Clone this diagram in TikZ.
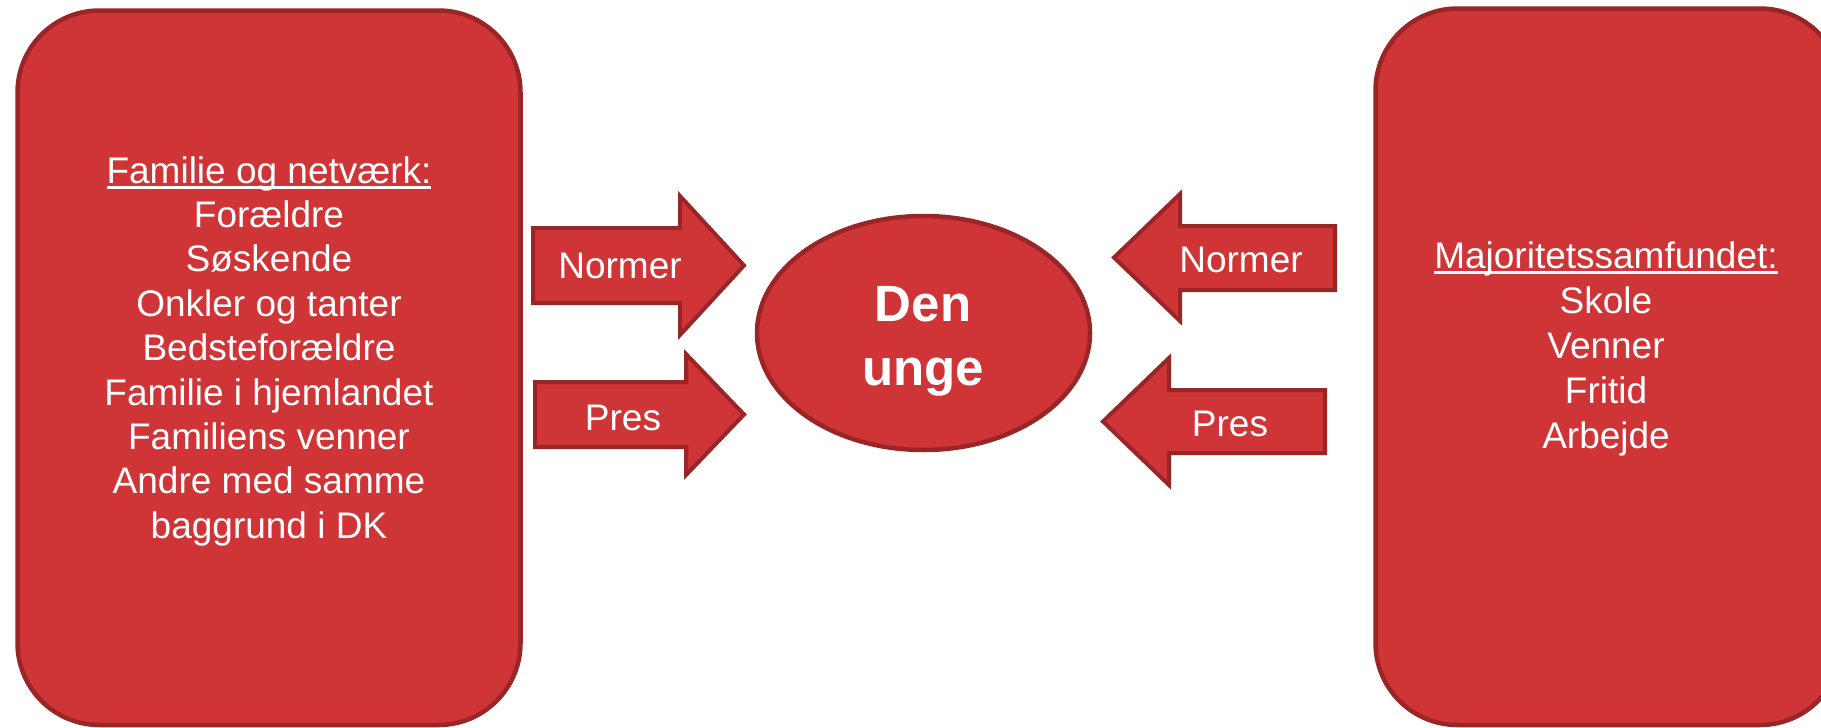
\documentclass[tikz,border=0pt]{standalone}
\usepackage{fontspec}
\setmainfont{Liberation Sans}
\usetikzlibrary{shapes.geometric}
\definecolor{boxfill}{RGB}{207,53,55}
\definecolor{boxline}{RGB}{154,37,39}
\newcommand\myul[1]{\setbox0\hbox{#1}\rlap{\rule[-5.5pt]{\wd0}{2.6pt}}\box0}
\begin{document}
\begin{tikzpicture}[x=1pt,y=-1pt,
  redshape/.style={fill=boxfill, draw=boxline, line width=4.5pt, line join=miter},
  arrowshape/.style={fill=boxfill, draw=boxline, line width=4pt, line join=miter},
  txt/.style={text=white, font=\fontsize{37}{44}\selectfont, inner sep=0pt},
  bigtxt/.style={text=white, font=\fontsize{51}{64}\selectfont\bfseries, inner sep=0pt}]
\useasboundingbox (0,0) rectangle (1821,728);
\clip (0,0) rectangle (1821,728);
\fill[white] (0,0) rectangle (1821,728);

% left box
\draw[redshape, rounded corners=82pt] (17.5,10.5) rectangle (520.5,725);
% right box
\draw[redshape, rounded corners=82pt] (1375.5,8.5) rectangle (1842,725);

% ellipse
\node[redshape, ellipse, minimum width=333pt, minimum height=234pt, inner sep=0pt] (young) at (923.5,333) {};

% left arrows (pointing right)
\draw[arrowshape] (533,228) -- (680,228) -- (680,196) -- (744,265.5) -- (680,335) -- (680,303) -- (533,303) -- cycle;
\draw[arrowshape] (535,382) -- (686,382) -- (686,354) -- (744,414.5) -- (686,475) -- (686,447) -- (535,447) -- cycle;
% right arrows (pointing left)
\draw[arrowshape] (1335,226) -- (1180,226) -- (1180,194) -- (1114,257.5) -- (1180,321) -- (1180,290) -- (1335,290) -- cycle;
\draw[arrowshape] (1325,390) -- (1169,390) -- (1169,358) -- (1103,421.5) -- (1169,485) -- (1169,453) -- (1325,453) -- cycle;

% arrow labels
\node[txt, anchor=base] (n1) at (620,278) {Normer};
\node[txt, anchor=base] (p1) at (623,430) {Pres};
\node[txt, anchor=base] (n2) at (1241,272) {Normer};
\node[txt, anchor=base] (p2) at (1230,436) {Pres};

% centre text
\node[bigtxt, anchor=base] (den) at (923,321) {Den};
\node[bigtxt, anchor=base] (unge) at (923,385) {unge};

% left box text
\node[txt, anchor=base] (lh) at (269,183) {\myul{Familie og netværk:}};
\foreach \t [count=\i] in {Forældre,Søskende,Onkler og tanter,Bedsteforældre,Familie i hjemlandet,Familiens venner,Andre med samme,baggrund i DK}
  \node[txt, anchor=base] (L\i) at (269,183+44.4*\i) {\t};

% right box text
\node[txt, anchor=base] (rh) at (1606,268) {\myul{Majoritetssamfundet:}};
\foreach \t [count=\i] in {Skole,Venner,Fritid,Arbejde}
  \node[txt, anchor=base] (R\i) at (1606,268+45*\i) {\t};
\end{tikzpicture}
\end{document}
